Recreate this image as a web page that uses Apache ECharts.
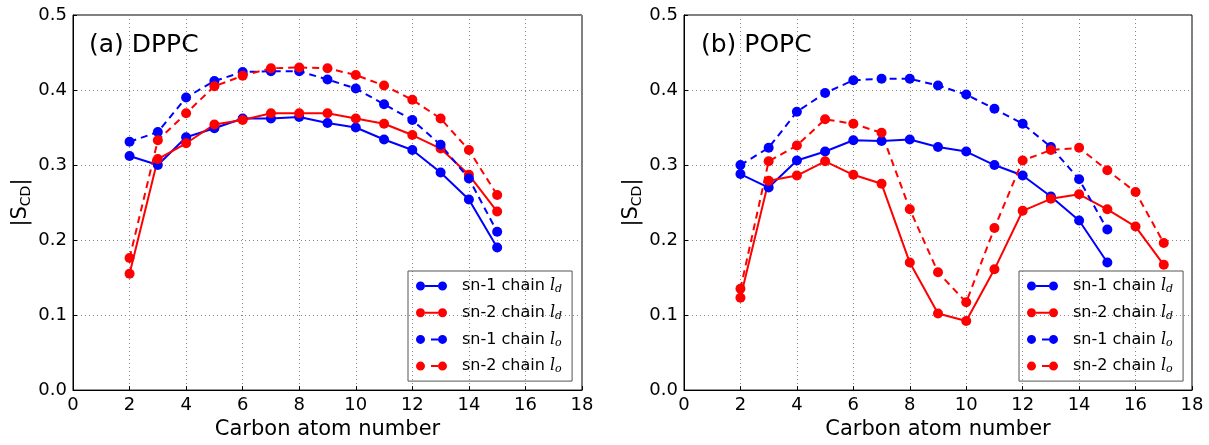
<!DOCTYPE html>
<html>
<head>
<meta charset="utf-8">
<script src="https://cdn.jsdelivr.net/npm/echarts@6/dist/echarts.min.js"></script>
<style>
  html, body { margin: 0; padding: 0; background: #fff; }
  #chart { width: 1209px; height: 445px; }
</style>
</head>
<body>
<div id="chart"></div>
<script>
// carbon atom numbers
const carbonsA = [2, 3, 4, 5, 6, 7, 8, 9, 10, 11, 12, 13, 14, 15];
const carbonsB1 = [2, 3, 4, 5, 6, 7, 8, 9, 10, 11, 12, 13, 14, 15];
const carbonsB2 = [2, 3, 4, 5, 6, 7, 8, 9, 10, 11, 12, 13, 14, 15, 16, 17];

// (a) DPPC
const dppcSn1Ld = [0.312, 0.300, 0.337, 0.349, 0.362, 0.362, 0.364, 0.356, 0.350, 0.334, 0.320, 0.290, 0.254, 0.190];
const dppcSn2Ld = [0.155, 0.308, 0.329, 0.354, 0.360, 0.369, 0.369, 0.369, 0.362, 0.355, 0.340, 0.322, 0.287, 0.238];
const dppcSn1Lo = [0.331, 0.344, 0.390, 0.412, 0.424, 0.425, 0.425, 0.414, 0.402, 0.381, 0.360, 0.327, 0.282, 0.211];
const dppcSn2Lo = [0.176, 0.333, 0.369, 0.405, 0.419, 0.429, 0.430, 0.429, 0.420, 0.406, 0.387, 0.362, 0.320, 0.260];

// (b) POPC
const popcSn1Ld = [0.288, 0.270, 0.306, 0.318, 0.333, 0.332, 0.334, 0.324, 0.318, 0.300, 0.286, 0.258, 0.226, 0.170];
const popcSn2Ld = [0.123, 0.279, 0.286, 0.305, 0.287, 0.275, 0.170, 0.102, 0.092, 0.161, 0.239, 0.255, 0.261, 0.241, 0.218, 0.167];
const popcSn1Lo = [0.300, 0.323, 0.371, 0.396, 0.413, 0.415, 0.415, 0.406, 0.394, 0.375, 0.355, 0.324, 0.281, 0.214];
const popcSn2Lo = [0.135, 0.305, 0.326, 0.361, 0.355, 0.343, 0.241, 0.157, 0.117, 0.216, 0.306, 0.320, 0.323, 0.293, 0.264, 0.196];

const panelTitles = ['(a) DPPC', '(b) POPC'];
const legendNames = ['sn-1 chain ld', 'sn-2 chain ld', 'sn-1 chain lo', 'sn-2 chain lo'];

const FONT = 'DejaVu Sans';
const BLUE = '#0000ff';
const RED = '#ff0000';

const solidIcon = 'path://M0,4.5a4.5,4.5 0 1,0 9,0a4.5,4.5 0 1,0 -9,0Z M9,3.5h13v2h-13Z M22,4.5a4.5,4.5 0 1,0 9,0a4.5,4.5 0 1,0 -9,0Z';
const dashIcon = 'path://M0,4.5a4.5,4.5 0 1,0 9,0a4.5,4.5 0 1,0 -9,0Z M15,3.5h7v2h-7Z M22,4.5a4.5,4.5 0 1,0 9,0a4.5,4.5 0 1,0 -9,0Z';

function pairs(xs, ys) {
  return xs.map((x, i) => [x, ys[i]]);
}

function makeSeries(name, xs, ys, color, dashed, idx) {
  return {
    name: name,
    type: 'line',
    xAxisIndex: idx,
    yAxisIndex: idx,
    data: pairs(xs, ys),
    symbol: 'circle',
    symbolSize: 10,
    showSymbol: true,
    animation: false,
    itemStyle: { color: color },
    lineStyle: { color: color, width: 2, type: dashed ? [7, 5] : 'solid' },
  };
}

const grids = [
  { left: 73, top: 15, width: 509, height: 377 },
  { left: 684, top: 15, width: 508, height: 377 },
];

function xAxisFor(i) {
  return {
    type: 'value',
    gridIndex: i,
    min: 0,
    max: 18,
    interval: 2,
    name: 'Carbon atom number',
    nameLocation: 'middle',
    nameGap: 25,
    nameTextStyle: { fontFamily: FONT, fontSize: 21, color: '#000' },
    axisLine: { onZero: false, lineStyle: { color: '#000', width: 1 } },
    axisTick: { inside: true, length: 4, lineStyle: { color: '#000' } },
    axisLabel: { fontFamily: FONT, fontSize: 18, color: '#000', margin: 6 },
    splitLine: { show: true, lineStyle: { color: '#888', type: [1, 3], width: 1 } },
  };
}

function yAxisFor(i) {
  return {
    type: 'value',
    gridIndex: i,
    min: 0,
    max: 0.5,
    interval: 0.1,
    name: '|S{sub|CD}|',
    nameLocation: 'middle',
    nameRotate: 90,
    nameGap: 40,
    nameTextStyle: {
      fontFamily: FONT, fontSize: 21, color: '#000',
      rich: { sub: { fontFamily: FONT, fontSize: 14, color: '#000', verticalAlign: 'bottom', padding: [10, 0, 0, 0] } },
    },
    axisLine: { onZero: false, lineStyle: { color: '#000', width: 1 } },
    axisTick: { inside: true, length: 4, lineStyle: { color: '#000' } },
    axisLabel: { fontFamily: FONT, fontSize: 18, color: '#000', margin: 6, formatter: (v) => v.toFixed(1) },
    splitLine: { show: true, lineStyle: { color: '#888', type: [1, 3], width: 1 } },
  };
}

function legendFor(left) {
  return {
    orient: 'vertical',
    left: left,
    top: 271,
    itemWidth: 31,
    itemHeight: 9,
    itemGap: 8.7,
    padding: [6, 10, 6, 8],
    borderColor: '#555',
    borderWidth: 1,
    selectedMode: false,
    data: legendNames.map((n, k) => ({ name: n, icon: k < 2 ? solidIcon : dashIcon })),
    formatter: (name) => {
      const parts = name.split(' ');
      const sub = parts[2].charAt(1);
      return '{n|' + parts[0] + ' ' + parts[1] + ' }{l|l}{s|' + sub + '}';
    },
    textStyle: {
      fontFamily: FONT,
      fontSize: 16,
      color: '#000',
      lineHeight: 18,
      padding: [0, 0, 0, 10],
      rich: {
        n: { fontFamily: FONT, fontSize: 16, color: '#000', lineHeight: 18 },
        l: { fontFamily: 'DejaVu Serif', fontStyle: 'italic', fontSize: 16, color: '#000', lineHeight: 18 },
        s: { fontFamily: 'DejaVu Serif', fontStyle: 'italic', fontSize: 11, color: '#000', lineHeight: 18, verticalAlign: 'bottom' },
      },
    },
  };
}

const option = {
  backgroundColor: '#fff',
  animation: false,
  title: [
    { text: panelTitles[0], left: 89, top: 33, padding: 0, textStyle: { fontFamily: FONT, fontSize: 25, fontWeight: 'normal', color: '#000' } },
    { text: panelTitles[1], left: 701, top: 33, padding: 0, textStyle: { fontFamily: FONT, fontSize: 25, fontWeight: 'normal', color: '#000' } },
  ],
  grid: grids.map((g) => Object.assign({ show: true, borderColor: '#000', borderWidth: 1, backgroundColor: 'transparent' }, g)),
  xAxis: [xAxisFor(0), xAxisFor(1)],
  yAxis: [yAxisFor(0), yAxisFor(1)],
  legend: [legendFor(408), legendFor(1019)],
  series: [
    makeSeries(legendNames[0], carbonsA, dppcSn1Ld, BLUE, false, 0),
    makeSeries(legendNames[1], carbonsA, dppcSn2Ld, RED, false, 0),
    makeSeries(legendNames[2], carbonsA, dppcSn1Lo, BLUE, true, 0),
    makeSeries(legendNames[3], carbonsA, dppcSn2Lo, RED, true, 0),
    makeSeries(legendNames[0], carbonsB1, popcSn1Ld, BLUE, false, 1),
    makeSeries(legendNames[1], carbonsB2, popcSn2Ld, RED, false, 1),
    makeSeries(legendNames[2], carbonsB1, popcSn1Lo, BLUE, true, 1),
    makeSeries(legendNames[3], carbonsB2, popcSn2Lo, RED, true, 1),
  ],
};

const myChart = echarts.init(document.getElementById('chart'), null, { renderer: 'canvas' });
myChart.setOption(option);
</script>
</body>
</html>
